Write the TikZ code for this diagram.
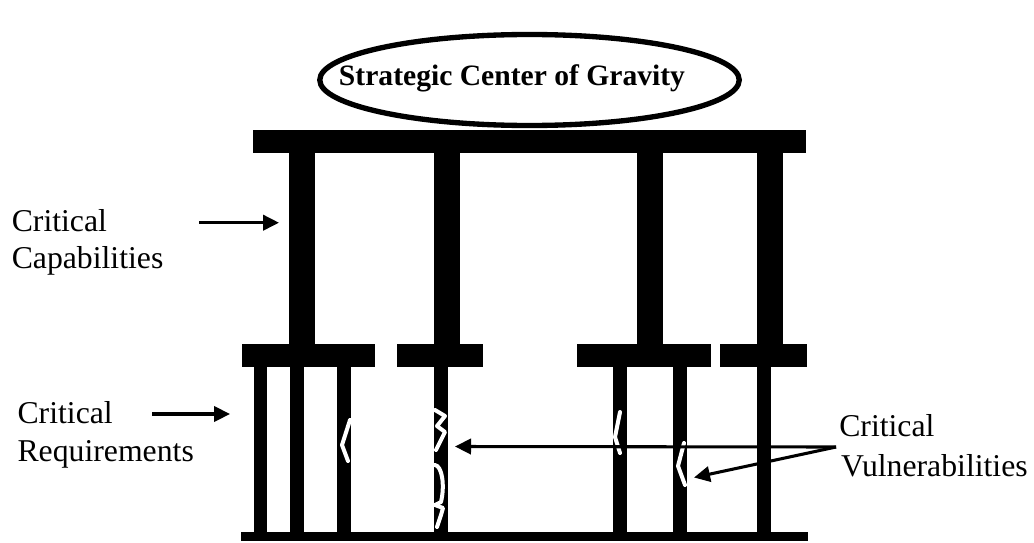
\documentclass[tikz,border=0pt]{standalone}
\usepackage{fontspec}
\setmainfont{Liberation Serif}
\usetikzlibrary{arrows.meta}
\newcommand{\labelfont}{\fontsize{23.8pt}{27.5pt}\selectfont}
\newcommand{\titlefont}{\fontsize{22.2pt}{26pt}\selectfont\bfseries}
\tikzset{
  beam/.style={fill=black},
  crack/.style={white,line width=3pt,line cap=round,line join=round},
  pointer/.style={-{Triangle[length=12pt,width=11.5pt]},line width=2.3pt},
  sidelabel/.style={align=left,inner sep=0pt,anchor=base west,font=\labelfont},
}

\begin{document}
\begin{tikzpicture}[x=0.75pt,y=-0.75pt]
\useasboundingbox (0,0) rectangle (1034,542);
% top beam and upper columns
\fill[beam] (253,130) rectangle (806,153);
\foreach \xa/\xb in {289/315,433.5/459.5,637/663,757/783}
  {\fill[beam] (\xa,152) rectangle (\xb,344);}
% middle beams
\foreach \xa/\xb in {241.5/375,397/483,577/711,720/807}
  {\fill[beam] (\xa,343.5) rectangle (\xb,366.5);}
% lower columns and ground beam
\foreach \xa in {253.5,290,337,434,613,673,757}
  {\fill[beam] (\xa,366) rectangle ({\xa+13.6},533);}
\fill[beam] (241,532) rectangle (808,541);
% centre of gravity
\draw[line width=4pt,fill=white] (529.5,80) ellipse [x radius=209.75,y radius=45.5];
\node[font=\titlefont,inner sep=0pt,anchor=base] (cogtitle) at (512,85)
 {Strategic Center of Gravity};
% cracks
\draw[crack] (350,420) -- (342,445) -- (348,461);
\draw[crack] (435,410) -- (445,416) -- (437,426) -- (445,432) -- (440,442) -- (436,450);
\draw[crack] (435,465) .. controls (442,466) and (445,485) .. (441,502) -- (435,505);
\draw[crack] (435,505) -- (443,508) -- (441,515) -- (437,527);
\draw[crack] (620,412) -- (615,437) -- (620,453);
\draw[crack] (684,443) -- (678,466) -- (685,485);
% labels (base anchor sits on the last line)
\node[sidelabel] (capab) at (11.5,268.3) {Critical\\Capabilities};
\node[sidelabel] (requir) at (17.3,461.7) {Critical\\[1.3pt]Requirements};
\node[sidelabel] (vulner) at (839,476.7) {Critical\\[2.5pt]\hspace*{1.3pt}Vulnerabilities};
\coordinate (capab from) at (199,222.7);
\coordinate (capab to) at (279,222.7);
\coordinate (requir from) at (152,414);
\coordinate (requir to) at (230,414);
\coordinate (vulner from) at (836,447);
\coordinate (crack mid) at (455,446.5);
\coordinate (crack right) at (694,477.5);
\draw[pointer] (capab from) -- (capab to);
\draw[pointer] (requir from) -- (requir to);
\draw[pointer] (vulner from) -- (crack mid);
\draw[pointer] (vulner from) -- (crack right);
\end{tikzpicture}
\end{document}
